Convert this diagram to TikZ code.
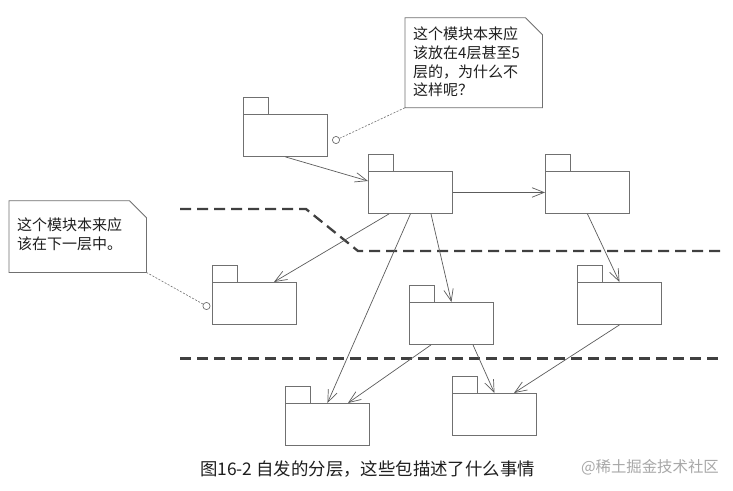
\documentclass[tikz,border=0pt]{standalone}
\usepackage{fontspec}
\newfontfamily\cjk{Noto Sans CJK SC}
\usetikzlibrary{arrows.meta}
\definecolor{pkgc}{HTML}{707070}
\definecolor{linec}{HTML}{5C5C5C}
\definecolor{dashc}{HTML}{404040}
\definecolor{txtc}{HTML}{1E1E1E}
\definecolor{wmc}{HTML}{A8A8A8}
\newcommand\pkgbox[3]{%
  \node[pkg] (#1) at (#2,#3) {};
  \draw[pkgline] (#1.north west) rectangle ([xshift=25pt,yshift=17pt]#1.north west);
}
\begin{document}
\begin{tikzpicture}[x=1pt,y=-1pt,
  pkgline/.style={draw=pkgc, line width=0.9pt},
  pkg/.style={pkgline, minimum width=84pt, minimum height=42pt, inner sep=0pt, anchor=north west},
  dep/.style={draw=linec, line width=0.7pt, -{Straight Barb[length=12pt,width=9.5pt]}},
  layer/.style={draw=dashc, line width=2.3pt, dash pattern=on 11pt off 6pt},
  notebox/.style={anchor=north west, minimum width=137pt, inner sep=0pt},
  notetext/.style={anchor=north west, inner sep=0pt, align=left, font=\cjk\fontsize{15}{18.7}\selectfont, text=txtc},
  noteline/.style={draw=pkgc, line width=0.8pt},
  circ/.style={circle, draw=pkgc, line width=0.7pt, fill=white, minimum size=7.2pt, inner sep=0pt},
  dotl/.style={draw=pkgc, line width=0.6pt, dash pattern=on 2pt off 1.5pt}]
\fill[white] (0,0) rectangle (733,490);
\useasboundingbox (0,0) rectangle (733,490);

% layer separators
\coordinate (u1) at (180,209);
\coordinate (u2) at (306,209);
\coordinate (u3) at (358,251);
\coordinate (u4) at (722,251);
\coordinate (l1) at (180,358.5);
\coordinate (l2) at (721,358.5);
\draw[layer] (u1) -- (u2) -- (u3) -- (u4);
\draw[layer] (l1) -- (l2);

% packages
\pkgbox{A}{243}{114}
\pkgbox{B}{368}{171}
\pkgbox{C}{545}{171}
\pkgbox{D}{212}{282}
\pkgbox{E}{409}{302}
\pkgbox{F}{577}{282}
\pkgbox{G}{285}{403}
\pkgbox{H}{452}{393}

% dependencies
\draw[dep] (A.south) -- ([yshift=-10pt]B.north west);
\draw[dep] (B.east) -- (C.west);
\draw[dep] ([xshift=21pt]B.south west) -- ([xshift=62pt]D.north west);
\draw[dep] (B.south) -- (G.north);
\draw[dep] ([xshift=63pt]B.south west) -- (E.north);
\draw[dep] (C.south) -- (F.north);
\draw[dep] ([xshift=22pt]E.south west) -- ([xshift=63pt]G.north west);
\draw[dep] ([xshift=64pt]E.south west) -- (H.north);
\draw[dep] (F.south) -- ([xshift=62pt]H.north west);

% notes
\node[notebox, minimum height=89.6pt] (nT) at (405,17.7) {};
\draw[noteline] (nT.south west) -- (nT.north west) -- ([xshift=-17pt]nT.north east)
  -- ([yshift=-17pt]nT.north east) -- (nT.south east) -- cycle;
\node[notetext] (nTt) at ([xshift=8pt,yshift=-9pt]nT.north west)
  {这个模块本来应\\该放在4层甚至5\\层的，为什么不\\这样呢？};
\node[notebox, minimum height=71.3pt] (nL) at (9,200.7) {};
\draw[noteline] (nL.south west) -- (nL.north west) -- ([xshift=-17pt]nL.north east)
  -- ([yshift=-17pt]nL.north east) -- (nL.south east) -- cycle;
\node[notetext] (nLt) at ([xshift=8pt,yshift=-17pt]nL.north west)
  {这个模块本来应\\该在下一层中。};

% note attachments
\node[circ] (cA) at (336,140) {};
\node[circ] (cD) at (206.5,306) {};
\draw[dotl] (cA) -- (nT.south west);
\draw[dotl] (cD) -- (nL.south east);

% caption and watermark
\node[anchor=west, inner sep=0pt, font=\cjk\fontsize{17.4}{19}\selectfont, text=txtc] (cap) at (200,469)
  {图16-2 自发的分层，这些包描述了什么事情};
\node[anchor=east, inner sep=0pt, font=\cjk\fontsize{15.4}{18}\selectfont, text=wmc] (wm) at (719,467)
  {@稀土掘金技术社区};
\end{tikzpicture}
\end{document}
